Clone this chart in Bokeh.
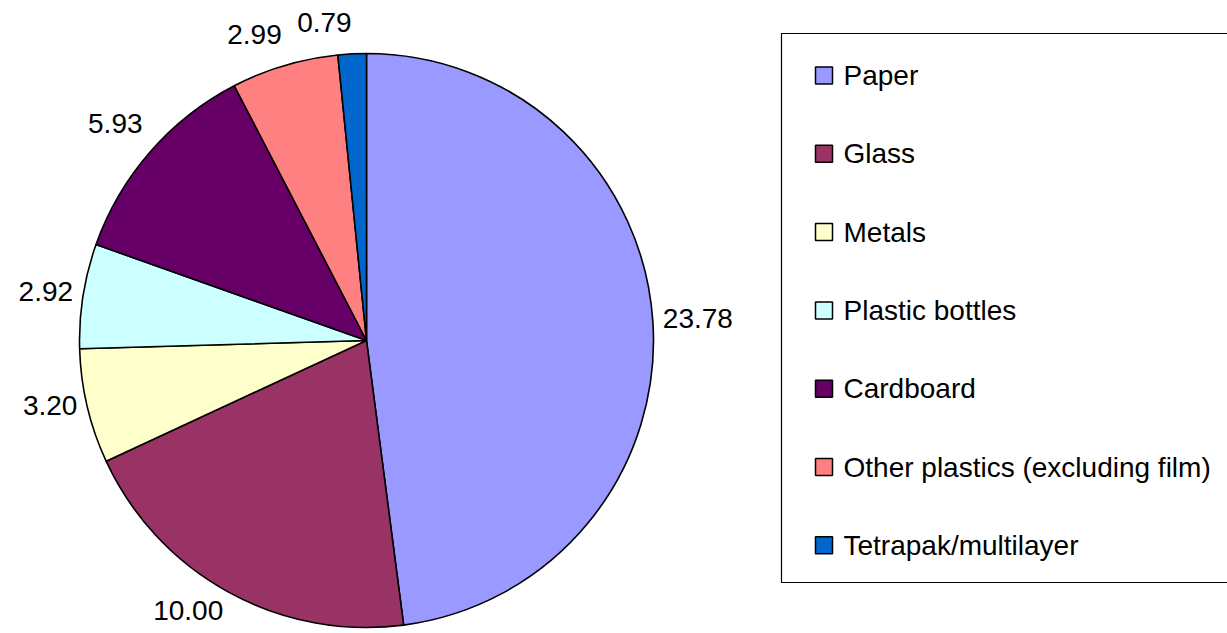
import numpy as np
from bokeh.plotting import figure
from bokeh.models import Range1d, ColumnDataSource
from bokeh.core.properties import value
from bokeh.embed import file_html
from bokeh.resources import INLINE

categories = ["Paper", "Glass", "Metals", "Plastic bottles", "Cardboard",
              "Other plastics (excluding film)", "Tetrapak/multilayer"]
values = [23.78, 10.00, 3.20, 2.92, 5.93, 2.99, 0.79]
labels = ["23.78", "10.00", "3.20", "2.92", "5.93", "2.99", "0.79"]
colors = ["#9999FF", "#993366", "#FFFFCC", "#CCFFFF", "#660066", "#FF8080", "#0066CC"]

W, H = 1227, 633
FONT = "Liberation Sans"
FS = "28px"

p = figure(width=W, height=H, output_backend="svg", toolbar_location=None,
           x_range=Range1d(0, W), y_range=Range1d(0, H),
           x_axis_location=None, y_axis_location=None, min_border=0)
p.grid.visible = False
p.outline_line_color = None
p.background_fill_color = "white"
p.border_fill_color = "white"

# pie geometry (pixel-like data units)
cx, cy, r = 366, H - 340, 287
vals = np.array(values)
frac = vals / vals.sum()
cum = np.concatenate([[0], np.cumsum(frac)])
start = np.pi / 2 - 2 * np.pi * cum[:-1]
end = np.pi / 2 - 2 * np.pi * cum[1:]

src = ColumnDataSource(dict(start=start, end=end, color=colors, cat=categories))
p.wedge(x=cx, y=cy, radius=r, start_angle="start", end_angle="end",
        direction="clock", fill_color="color", line_color="black",
        line_width=1.6, source=src)

# data labels outside end
mid = (start + end) / 2
g = 10
for lab, a in zip(labels, mid):
    ux, uy = np.cos(a), np.sin(a)
    px, py = cx + (r + g) * ux, cy + (r + g) * uy
    if ux > 0.03:
        al = "left"
    elif ux < -0.03:
        al = "right"
    else:
        al = "center"
    if uy > 0.3:
        bl = "bottom"
        py += 12
    elif uy < -0.3:
        bl = "top"
    else:
        bl = "middle"
        py += 3
    p.text(x=[px], y=[py], text=[lab], text_font=value(FONT),
           text_font_size=FS, text_align=al, text_baseline=bl, text_color="black")

# legend (drawn manually)
leg_left, leg_top, leg_bottom = 781, 33, 582
p.quad(left=leg_left, right=W + 40, top=H - leg_top, bottom=H - leg_bottom,
       fill_color="white", line_color="black", line_width=1.2)
first_y, pitch = 75, 78.3
ly = [H - (first_y + i * pitch) for i in range(len(categories))]
p.rect(x=[823.5] * len(categories), y=ly, width=17, height=17,
       fill_color=colors, line_color="black", line_width=1.5)
p.text(x=[843] * len(categories), y=ly, text=categories, text_font=value(FONT),
       text_font_size=FS, text_align="left", text_baseline="middle", text_color="black")

open("out.html", "w").write(file_html(p, INLINE))
